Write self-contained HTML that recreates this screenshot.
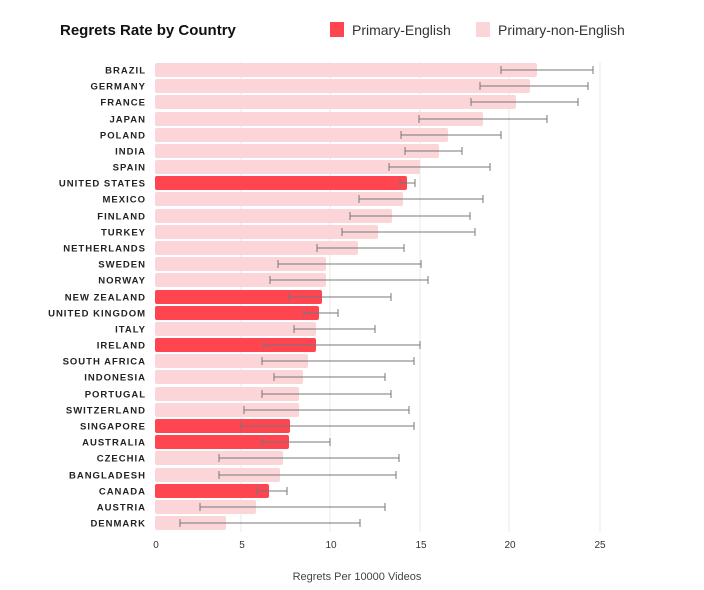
<!DOCTYPE html><html><head><style>body{margin:0;background:#fff}svg{display:block}</style></head><body>
<svg width="704" height="590" xmlns="http://www.w3.org/2000/svg" font-family="Liberation Sans, sans-serif">
<text x="60" y="35" font-size="15" font-weight="bold" fill="#111">Regrets Rate by Country</text>
<rect x="330" y="22" width="14" height="15" fill="#ff4650"/>
<text x="352" y="35" font-size="14" fill="#333">Primary-English</text>
<rect x="476" y="22" width="14" height="15" fill="#fbd5d8"/>
<text x="498" y="35" font-size="14" fill="#333">Primary-non-English</text>
<g stroke="#e8e8e8" stroke-width="1">
<line x1="241" y1="62" x2="241" y2="532"/><line x1="330" y1="62" x2="330" y2="532"/><line x1="420" y1="62" x2="420" y2="532"/><line x1="509" y1="62" x2="509" y2="532"/><line x1="600" y1="62" x2="600" y2="532"/>
</g>
<g font-size="9.5" font-weight="bold" letter-spacing="1" fill="#222" text-anchor="end">
<g transform="translate(0,70)"><rect x="155" y="-7" width="382" height="14" rx="2" fill="#fbd5d8"/><path d="M501 0H593M501 -4V4M593 -4V4" stroke="#777"/><text x="146" y="3.5">BRAZIL</text></g>
<g transform="translate(0,86)"><rect x="155" y="-7" width="375" height="14" rx="2" fill="#fbd5d8"/><path d="M480 0H588M480 -4V4M588 -4V4" stroke="#777"/><text x="146" y="3.5">GERMANY</text></g>
<g transform="translate(0,102)"><rect x="155" y="-7" width="361" height="14" rx="2" fill="#fbd5d8"/><path d="M471 0H578M471 -4V4M578 -4V4" stroke="#777"/><text x="146" y="3.5">FRANCE</text></g>
<g transform="translate(0,119)"><rect x="155" y="-7" width="328" height="14" rx="2" fill="#fbd5d8"/><path d="M419 0H547M419 -4V4M547 -4V4" stroke="#777"/><text x="146" y="3.5">JAPAN</text></g>
<g transform="translate(0,135)"><rect x="155" y="-7" width="293" height="14" rx="2" fill="#fbd5d8"/><path d="M401 0H501M401 -4V4M501 -4V4" stroke="#777"/><text x="146" y="3.5">POLAND</text></g>
<g transform="translate(0,151)"><rect x="155" y="-7" width="284" height="14" rx="2" fill="#fbd5d8"/><path d="M405 0H462M405 -4V4M462 -4V4" stroke="#777"/><text x="146" y="3.5">INDIA</text></g>
<g transform="translate(0,167)"><rect x="155" y="-7" width="265" height="14" rx="2" fill="#fbd5d8"/><path d="M389 0H490M389 -4V4M490 -4V4" stroke="#777"/><text x="146" y="3.5">SPAIN</text></g>
<g transform="translate(0,183)"><rect x="155" y="-7" width="252" height="14" rx="2" fill="#ff4650"/><path d="M400 0H415M400 -4V4M415 -4V4" stroke="#777"/><text x="146" y="3.5">UNITED STATES</text></g>
<g transform="translate(0,199)"><rect x="155" y="-7" width="248" height="14" rx="2" fill="#fbd5d8"/><path d="M359 0H483M359 -4V4M483 -4V4" stroke="#777"/><text x="146" y="3.5">MEXICO</text></g>
<g transform="translate(0,216)"><rect x="155" y="-7" width="237" height="14" rx="2" fill="#fbd5d8"/><path d="M350 0H470M350 -4V4M470 -4V4" stroke="#777"/><text x="146" y="3.5">FINLAND</text></g>
<g transform="translate(0,232)"><rect x="155" y="-7" width="223" height="14" rx="2" fill="#fbd5d8"/><path d="M342 0H475M342 -4V4M475 -4V4" stroke="#777"/><text x="146" y="3.5">TURKEY</text></g>
<g transform="translate(0,248)"><rect x="155" y="-7" width="203" height="14" rx="2" fill="#fbd5d8"/><path d="M317 0H404M317 -4V4M404 -4V4" stroke="#777"/><text x="146" y="3.5">NETHERLANDS</text></g>
<g transform="translate(0,264)"><rect x="155" y="-7" width="171" height="14" rx="2" fill="#fbd5d8"/><path d="M278 0H421M278 -4V4M421 -4V4" stroke="#777"/><text x="146" y="3.5">SWEDEN</text></g>
<g transform="translate(0,280)"><rect x="155" y="-7" width="171" height="14" rx="2" fill="#fbd5d8"/><path d="M270 0H428M270 -4V4M428 -4V4" stroke="#777"/><text x="146" y="3.5">NORWAY</text></g>
<g transform="translate(0,297)"><rect x="155" y="-7" width="167" height="14" rx="2" fill="#ff4650"/><path d="M289 0H391M289 -4V4M391 -4V4" stroke="#777"/><text x="146" y="3.5">NEW ZEALAND</text></g>
<g transform="translate(0,313)"><rect x="155" y="-7" width="164" height="14" rx="2" fill="#ff4650"/><path d="M304 0H338M304 -4V4M338 -4V4" stroke="#777"/><text x="146" y="3.5">UNITED KINGDOM</text></g>
<g transform="translate(0,329)"><rect x="155" y="-7" width="161" height="14" rx="2" fill="#fbd5d8"/><path d="M294 0H375M294 -4V4M375 -4V4" stroke="#777"/><text x="146" y="3.5">ITALY</text></g>
<g transform="translate(0,345)"><rect x="155" y="-7" width="161" height="14" rx="2" fill="#ff4650"/><path d="M264 0H420M264 -4V4M420 -4V4" stroke="#777"/><text x="146" y="3.5">IRELAND</text></g>
<g transform="translate(0,361)"><rect x="155" y="-7" width="153" height="14" rx="2" fill="#fbd5d8"/><path d="M262 0H414M262 -4V4M414 -4V4" stroke="#777"/><text x="146" y="3.5">SOUTH AFRICA</text></g>
<g transform="translate(0,377)"><rect x="155" y="-7" width="148" height="14" rx="2" fill="#fbd5d8"/><path d="M274 0H385M274 -4V4M385 -4V4" stroke="#777"/><text x="146" y="3.5">INDONESIA</text></g>
<g transform="translate(0,394)"><rect x="155" y="-7" width="144" height="14" rx="2" fill="#fbd5d8"/><path d="M262 0H391M262 -4V4M391 -4V4" stroke="#777"/><text x="146" y="3.5">PORTUGAL</text></g>
<g transform="translate(0,410)"><rect x="155" y="-7" width="144" height="14" rx="2" fill="#fbd5d8"/><path d="M244 0H409M244 -4V4M409 -4V4" stroke="#777"/><text x="146" y="3.5">SWITZERLAND</text></g>
<g transform="translate(0,426)"><rect x="155" y="-7" width="135" height="14" rx="2" fill="#ff4650"/><path d="M241 0H414M241 -4V4M414 -4V4" stroke="#777"/><text x="146" y="3.5">SINGAPORE</text></g>
<g transform="translate(0,442)"><rect x="155" y="-7" width="134" height="14" rx="2" fill="#ff4650"/><path d="M262 0H330M262 -4V4M330 -4V4" stroke="#777"/><text x="146" y="3.5">AUSTRALIA</text></g>
<g transform="translate(0,458)"><rect x="155" y="-7" width="128" height="14" rx="2" fill="#fbd5d8"/><path d="M219 0H399M219 -4V4M399 -4V4" stroke="#777"/><text x="146" y="3.5">CZECHIA</text></g>
<g transform="translate(0,475)"><rect x="155" y="-7" width="125" height="14" rx="2" fill="#fbd5d8"/><path d="M219 0H396M219 -4V4M396 -4V4" stroke="#777"/><text x="146" y="3.5">BANGLADESH</text></g>
<g transform="translate(0,491)"><rect x="155" y="-7" width="114" height="14" rx="2" fill="#ff4650"/><path d="M257 0H287M257 -4V4M287 -4V4" stroke="#777"/><text x="146" y="3.5">CANADA</text></g>
<g transform="translate(0,507)"><rect x="155" y="-7" width="101" height="14" rx="2" fill="#fbd5d8"/><path d="M200 0H385M200 -4V4M385 -4V4" stroke="#777"/><text x="146" y="3.5">AUSTRIA</text></g>
<g transform="translate(0,523)"><rect x="155" y="-7" width="71" height="14" rx="2" fill="#fbd5d8"/><path d="M180 0H360M180 -4V4M360 -4V4" stroke="#777"/><text x="146" y="3.5">DENMARK</text></g>
</g>
<g font-size="10" fill="#333" text-anchor="middle">
<text x="156" y="548">0</text><text x="242" y="548">5</text><text x="331" y="548">10</text><text x="421" y="548">15</text><text x="510" y="548">20</text><text x="600" y="548">25</text>
</g>
<text x="357" y="580" font-size="11" fill="#444" text-anchor="middle">Regrets Per 10000 Videos</text>
</svg></body></html>
